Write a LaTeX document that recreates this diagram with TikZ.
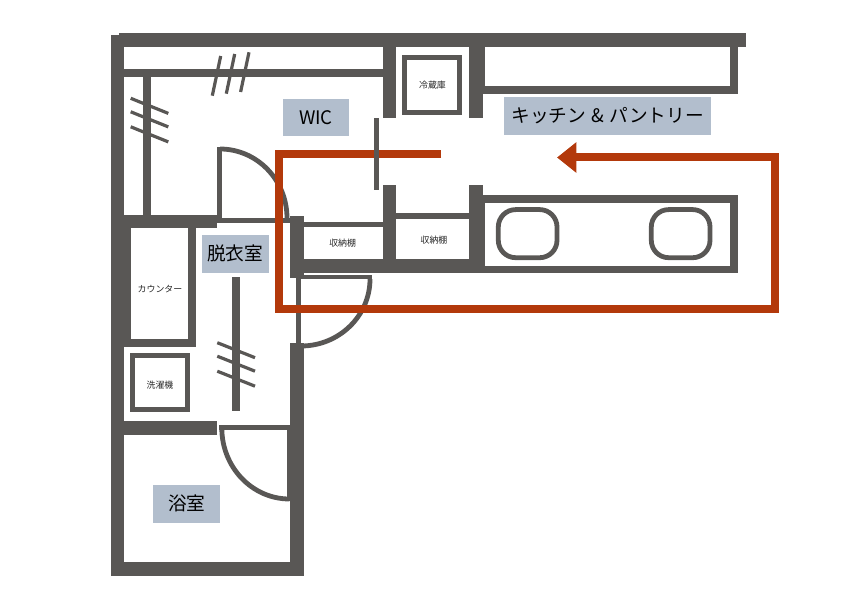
\documentclass[tikz,border=0pt]{standalone}
\usepackage{fontspec}
\setmainfont{Noto Sans CJK JP}
\usetikzlibrary{positioning, arrows.meta}
\definecolor{wallGray}{HTML}{595755}
\definecolor{routeRed}{HTML}{B3390B}
\definecolor{labelBlue}{HTML}{B2BECD}
\tikzstyle{wall} = [fill=wallGray]
\tikzstyle{hanger} = [draw=wallGray, line width=2.4pt]
\tikzstyle{fixture} = [draw=wallGray, line width=3.6pt]
\tikzstyle{roomLabel} = [fill=labelBlue, text=black, align=center, font=\fontsize{14}{14}\selectfont, inner sep=0pt]
\tikzstyle{smallLabel} = [text=black!85, font=\fontsize{6.7}{7}\selectfont, inner sep=0pt]
\tikzstyle{routeArrow} = [draw=routeRed, line width=6pt, miter limit=10, -{Triangle[length=14.5pt,width=22pt]}]

\begin{document}
\begin{tikzpicture}[x=0.75pt, y=-0.75pt]
  \useasboundingbox (0,0) rectangle (842,595);

  % doors
  \draw[fixture] (220,149) arc[start angle=-90, end angle=0, x radius=67, y radius=69];
  \draw[fixture] (370,279) arc[start angle=0, end angle=90, x radius=69, y radius=67];

  % outer walls
  \fill[wall] (110.5,35) rectangle (124,576);
  \fill[wall] (119,33.5) rectangle (745.7,47.3);
  \fill[wall] (110.5,562.3) rectangle (303.7,576);
  \fill[wall] (290,343.3) rectangle (303.7,576);
  \fill[wall] (290,216) rectangle (303.7,277.7);
  \fill[wall] (290,259.3) rectangle (485,273.3);
  \fill[wall] (482,265.7) rectangle (738,273.3);

  % walk in closet
  \fill[wall] (124,69) rectangle (383,76.7);
  \fill[wall] (382.5,47) rectangle (396.2,118.3);
  \fill[wall] (382.5,185) rectangle (396.2,273);
  \fill[wall] (143.3,76) rectangle (151.3,216);
  \fill[wall] (124,214.6) rectangle (217.3,228.3);

  % kitchen
  \fill[wall] (469,47) rectangle (482.7,118.3);
  \fill[wall] (482,47) rectangle (485,86);
  \fill[wall] (482,86) rectangle (738,94);
  \fill[wall] (730,47) rectangle (738,94);
  \fill[wall] (469,185) rectangle (482.7,273);
  \fill[wall] (482,195) rectangle (738,202.7);
  \fill[wall] (482,195) rectangle (485.3,273);
  \fill[wall] (730,195) rectangle (738,273);

  % shelves
  \fill[wall] (303,221.7) rectangle (383,226.7);
  \fill[wall] (396,213) rectangle (469,218.7);

  % counter
  \fill[wall] (124,228) rectangle (131.3,347.3);
  \fill[wall] (188.3,228) rectangle (196.3,347.3);
  \fill[wall] (124,339.3) rectangle (196.3,347.3);

  % bath
  \fill[wall] (124,421) rectangle (217.3,435);

  % door leaves
  \fill[wall] (217.3,146.7) rectangle (222,218);
  \fill[wall] (217,217.7) rectangle (290,222.7);
  \fill[wall] (296,277) rectangle (300.7,345);
  \fill[wall] (300,275) rectangle (372,279.3);
  \fill[wall] (219.3,425) rectangle (290,430);
  \fill[wall] (287.3,425) rectangle (290,501);
  \draw[fixture] (221.8,428) arc[start angle=180, end angle=90, x radius=67.7, y radius=71];

  % route
  \coordinate (routeStart) at (441,154);
  \coordinate (routeEnd) at (557,157.5);
  \draw[routeArrow] (routeStart) -- (278.5,154) -- (278.5,309.3) -- (775,309.3) -- (775,157.5) -- (routeEnd);

  % sliding door and rods
  \fill[wall] (374,118.3) rectangle (379,190);
  \fill[wall] (232.3,277.3) rectangle (240.3,411.3);

  \foreach \dy in {0,13.5,28.5}
    \draw[hanger] (130.7,98.3+\dy) -- (168.3,113.4+\dy);
  \foreach \dy in {0,13.5,28.5}
    \draw[hanger] (217.3,342.7+\dy) -- (255,357.7+\dy);
  \foreach \dx/\dy in {0/0,14/-2,28.3/-3.7}
    \draw[hanger] (220.7+\dx,56+\dy) -- (212.3+\dx,95.7+\dy);

  % fixtures
  \draw[fixture] (404.8,57.8) rectangle (459.5,112.5);
  \draw[fixture] (132.5,355.8) rectangle (187.2,409.8);
  \draw[fixture, rounded corners=13] (498.3,209.6) rectangle (557,257.7);
  \draw[fixture, rounded corners=13] (651.3,209.6) rectangle (710,257.7);

  % room labels
  \node (wic) at (316,117.6) [roomLabel, minimum width=50pt, minimum height=28pt] {WIC};
  \node (kitchen) at (607.8,116) [roomLabel, minimum width=155.2pt, minimum height=28pt] {キッチン\hspace{4pt}\&\hspace{4pt}パントリー};
  \node (dressing) at (235.2,253.8) [roomLabel, minimum width=50.2pt, minimum height=28.2pt] {脱衣室};
  \node (bath) at (186.8,503.8) [roomLabel, minimum width=50.2pt, minimum height=28.2pt] {浴室};

  % small labels
  \node (fridge) at (432.5,85) [smallLabel] {冷蔵庫};
  \node (shelfA) at (342.7,243) [smallLabel] {収納棚};
  \node (shelfB) at (434,240) [smallLabel] {収納棚};
  \node (counter) at (160,289) [smallLabel] {カウンター};
  \node (washer) at (160,385) [smallLabel] {洗濯機};
\end{tikzpicture}
\end{document}
